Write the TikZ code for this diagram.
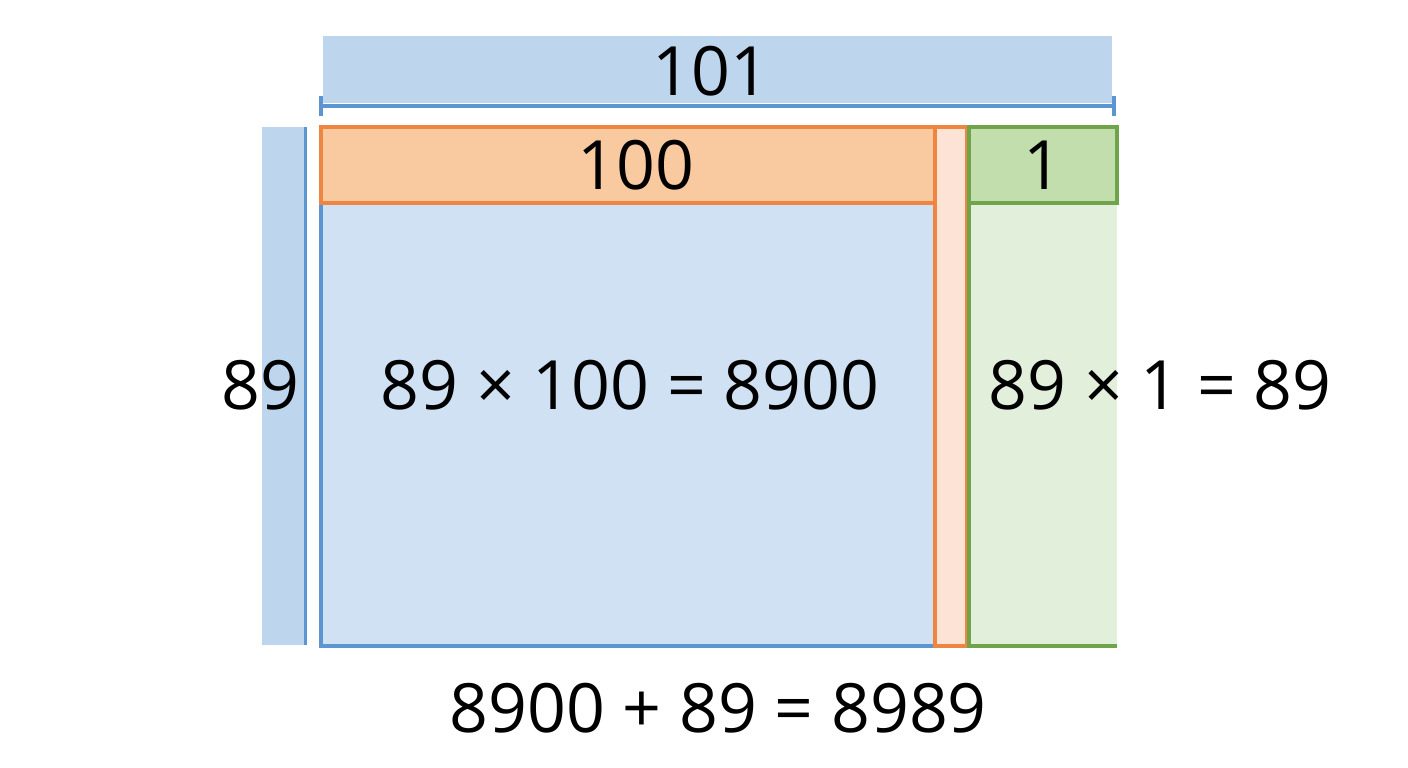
\documentclass[tikz,border=0pt]{standalone}
\usepackage{fontspec}
\setmainfont{Open Sans}
\usepackage{tikz}
\usetikzlibrary{calc,positioning}

\definecolor{blueline}{RGB}{91,150,210}
\definecolor{bluebar}{RGB}{189,214,238}
\definecolor{bluefill}{RGB}{207,225,242}
\definecolor{orangeline}{RGB}{238,133,64}
\definecolor{orangefill}{RGB}{249,201,160}
\definecolor{peach}{RGB}{253,227,213}
\definecolor{greenline}{RGB}{111,165,74}
\definecolor{greenhead}{RGB}{195,222,173}
\definecolor{greenfill}{RGB}{226,239,218}

\tikzset{
	num/.style={font=\fontsize{68}{78}\selectfont,inner sep=0pt,text=black},
	edge/.style={line width=4.5}
}

\begin{document}
\begin{tikzpicture}[x=1pt,y=-1pt]
	\useasboundingbox (0,0) rectangle (1408,768);
	% width bar on top, with its bracket
	\fill[bluebar] (323,36) rectangle (1112,103);
	\coordinate (tl) at (321,106);
	\coordinate (tr) at (1114,106);
	\draw[blueline,line width=3.5] (tl) -- (tr);
	\draw[blueline,line width=3.5] ($(tl)+(0,-10)$) -- ($(tl)+(0,10)$)
		($(tr)+(0,-10)$) -- ($(tr)+(0,10)$);
	% height bar on the left
	\fill[bluebar] (262,127) rectangle (305,645);
	\draw[blueline,line width=3] (305,127) -- (305,645);
	% the three parts
	\filldraw[fill=bluefill,draw=blueline,edge] (321,127) rectangle (935,646);
	\filldraw[fill=peach,draw=orangeline,edge] (935,127) rectangle (967,646);
	\fill[greenfill] (967,127) rectangle (1117,646);
	\draw[greenline,edge] (1117,646) -| (969,127);
	\filldraw[fill=orangefill,draw=orangeline,edge] (321,127) rectangle (935,203);
	\filldraw[fill=greenhead,draw=greenline,edge] (969,127) rectangle (1117,203);
	% labels
	\node(w) [num] at (711,71) {101};
	\node(a) [num] at (636,165) {100};
	\node(b) [num] at (1043,165) {1};
	\node(h) [num] at (260,385) {89};
	\node(pa) [num] at (630,385) {89 × 100 = 8900};
	\node(pb) [num] at (1160,385) {89 × 1 = 89};
	\node(sum) [num] at (718,708) {8900 + 89 = 8989};
\end{tikzpicture}
\end{document}
